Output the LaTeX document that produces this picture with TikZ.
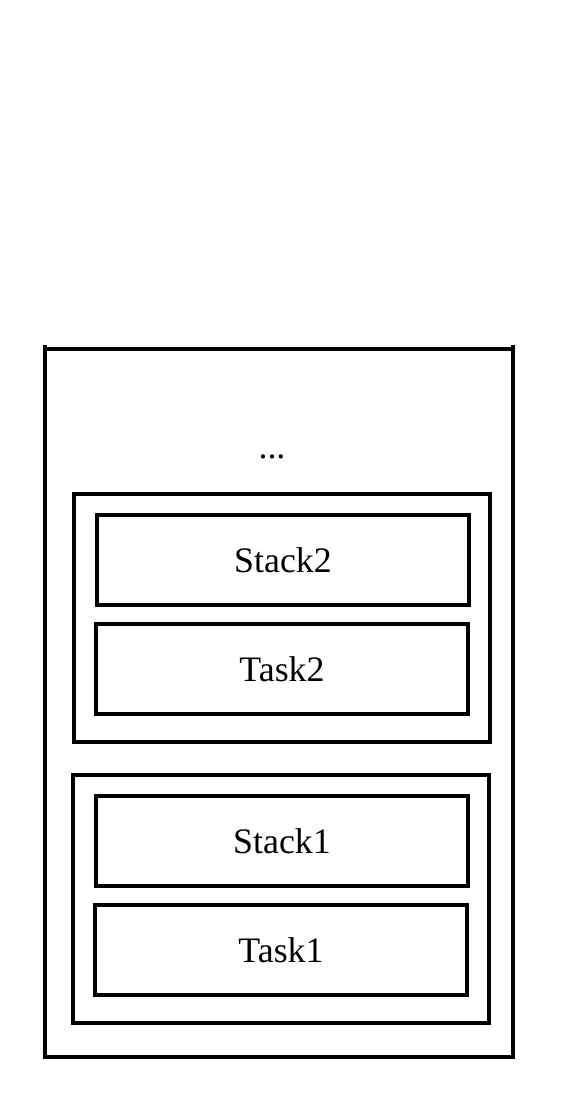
\documentclass[tikz,border=0pt]{standalone}
\usepackage{fontspec}
\setmainfont{Liberation Serif}
\usepackage{tikz}
\tikzset{
  blockbox/.style = {draw,line width=0.16cm,minimum width=18.6cm,minimum height=4.5cm,
                     inner sep=0pt,font=\fontsize{51}{60}\selectfont},
  groupbox/.style = {draw,line width=0.16cm,minimum width=20.8cm,minimum height=12.4cm,inner sep=0pt},
  wallline/.style = {line width=0.16cm}
}
\begin{document}
\begin{tikzpicture}[x=0.05cm,y=-0.05cm]
  \useasboundingbox (0,0) rectangle (576,1098);
  % --- the open container
  \coordinate (tl) at (45,345);
  \coordinate (bl) at (45,1057);
  \coordinate (br) at (513,1057);
  \coordinate (tr) at (513,345);
  \draw[wallline] (tl) -- (bl) -- (br) -- (tr);
  \draw[wallline] (45,349) -- (513,349);
  \node[font=\fontsize{51}{60}\selectfont] (dots) at (272,457) {...};
  % --- second frame
  \node[groupbox] (grp2) at (282,618) {};
  \node[blockbox] (stack2) at (283,560) {Stack2};
  \node[blockbox] (task2)  at (282,669) {Task2};
  % --- first frame
  \node[groupbox] (grp1) at (281,899) {};
  \node[blockbox] (stack1) at (282,841) {Stack1};
  \node[blockbox] (task1)  at (281,950) {Task1};
\end{tikzpicture}
\end{document}
